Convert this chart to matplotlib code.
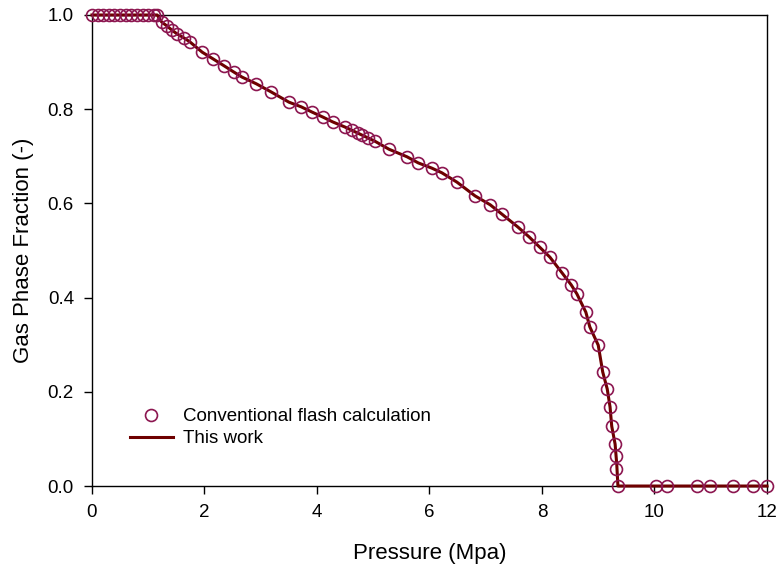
import matplotlib
matplotlib.use("Agg")
import matplotlib.pyplot as plt

plt.rcParams['font.family'] = ['Liberation Sans', 'DejaVu Sans']

# Conventional flash calculation results
pressure = [0.0, 0.1, 0.2, 0.3, 0.4, 0.5, 0.6, 0.7, 0.8, 0.9, 1.0, 1.1, 1.16,
            1.24, 1.33, 1.42, 1.51, 1.64, 1.74, 1.96, 2.15, 2.35, 2.52, 2.67,
            2.92, 3.18, 3.50, 3.72, 3.91, 4.11, 4.28, 4.50, 4.62, 4.73, 4.80,
            4.91, 5.03, 5.28, 5.60, 5.80, 6.04, 6.22, 6.49, 6.81, 7.08, 7.29,
            7.57, 7.77, 7.96, 8.14, 8.36, 8.52, 8.62, 8.78, 8.85, 9.00, 9.08,
            9.16, 9.21, 9.24, 9.30, 9.32, 9.32, 9.35, 10.03, 10.22, 10.76,
            10.99, 11.40, 11.75, 12.0]
gas_fraction = [1.0, 1.0, 1.0, 1.0, 1.0, 1.0, 1.0, 1.0, 1.0, 1.0, 1.0, 1.0, 1.0,
                0.985, 0.977, 0.968, 0.960, 0.951, 0.943, 0.921, 0.907, 0.892,
                0.879, 0.868, 0.854, 0.837, 0.815, 0.805, 0.794, 0.783, 0.773,
                0.762, 0.756, 0.749, 0.745, 0.739, 0.732, 0.715, 0.699, 0.686,
                0.675, 0.665, 0.645, 0.616, 0.597, 0.577, 0.550, 0.529, 0.507,
                0.486, 0.452, 0.427, 0.408, 0.369, 0.338, 0.299, 0.242, 0.206,
                0.168, 0.127, 0.089, 0.064, 0.036, 0.0, 0.0, 0.0, 0.0, 0.0, 0.0,
                0.0, 0.0]

# This work (continuous curve)
line_pressure = [0.0, 1.16, 1.24, 1.33, 1.42, 1.51, 1.64, 1.74, 1.96, 2.15, 2.35,
                 2.52, 2.67, 2.92, 3.18, 3.50, 3.72, 3.91, 4.11, 4.28, 4.50, 4.73,
                 5.03, 5.28, 5.60, 5.80, 6.04, 6.22, 6.49, 6.81, 7.08, 7.29, 7.57,
                 7.77, 7.96, 8.14, 8.36, 8.52, 8.62, 8.78, 8.85, 9.00, 9.08, 9.16,
                 9.21, 9.24, 9.30, 9.33, 9.35, 12.0]
line_fraction = [1.0, 1.0, 0.985, 0.977, 0.968, 0.960, 0.951, 0.943, 0.921, 0.907,
                 0.892, 0.879, 0.868, 0.854, 0.837, 0.815, 0.805, 0.794, 0.783,
                 0.773, 0.762, 0.749, 0.732, 0.715, 0.699, 0.686, 0.675, 0.665,
                 0.645, 0.616, 0.597, 0.577, 0.550, 0.529, 0.507, 0.486, 0.452,
                 0.427, 0.408, 0.369, 0.338, 0.299, 0.242, 0.206, 0.168, 0.127,
                 0.089, 0.045, 0.0, 0.0]

x_ticks = [0, 2, 4, 6, 8, 10, 12]
y_ticks = [0.0, 0.2, 0.4, 0.6, 0.8, 1.0]

fig = plt.figure(figsize=(7.82, 5.72), dpi=100)
ax = fig.add_axes([0.1176, 0.1503, 0.8632, 0.8235])

ax.plot(line_pressure, line_fraction, color='#6e0000', lw=2.2,
        label='This work', clip_on=False, zorder=3)
ax.plot(pressure, gas_fraction, linestyle='none', marker='o', markersize=8.6,
        markerfacecolor='none', markeredgecolor='#8c1650', markeredgewidth=1.2,
        label='Conventional flash calculation', clip_on=False, zorder=4)

ax.set_xlim(0, 12)
ax.set_ylim(0, 1.0)
ax.set_xticks(x_ticks)
ax.set_xticklabels([str(t) for t in x_ticks])
ax.set_yticks(y_ticks)
ax.set_yticklabels([f'{t:.1f}' for t in y_ticks])
ax.tick_params(direction='out', length=6, width=1, labelsize=13.5, pad=7)

ax.set_xlabel('Pressure (Mpa)', fontsize=16, labelpad=16)
ax.set_ylabel('Gas Phase Fraction (-)', fontsize=16, labelpad=10)

for sp in ax.spines.values():
    sp.set_linewidth(1.0)

handles, labels = ax.get_legend_handles_labels()
ax.legend(handles[::-1], labels[::-1], loc='upper left',
          bbox_to_anchor=(0.056, 0.165), frameon=False, fontsize=13.5,
          handlelength=2.3, handletextpad=0.55, labelspacing=0.25,
          borderaxespad=0, borderpad=0)

fig.savefig('out.png', dpi=100)
